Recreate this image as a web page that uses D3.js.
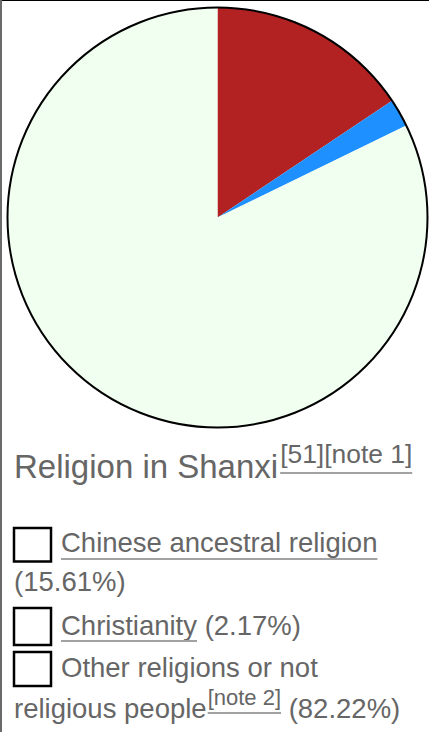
<!DOCTYPE html>
<html><head><meta charset="utf-8">
<script src="https://cdn.jsdelivr.net/npm/d3@7"></script>
<style>html,body{margin:0;padding:0;background:#fff;}svg{display:block;}</style>
</head><body>
<script>
const categories = ["Chinese ancestral religion", "Christianity", "Other religions or not religious people"];
const values = [15.61, 2.17, 82.22];
const colors = ["#B22222", "#1E90FF", "#F0FFF0"];
const title = "Religion in Shanxi";
const titleNote = "[51][note 1]";
const valueLabels = ["(15.61%)", "(2.17%)", "(82.22%)"];

const W = 429, H = 732;
const svg = d3.select("body").append("svg").attr("width", W).attr("height", H);
const font = "'Liberation Sans', Arial, sans-serif";
const textColor = "#666", lineColor = "#a2a2a2";

// frame
svg.append("line").attr("x1",0).attr("x2",W).attr("y1",0.5).attr("y2",0.5).attr("stroke","#000").attr("stroke-width",1);
svg.append("rect").attr("x",0).attr("y",0).attr("width",2).attr("height",H).attr("fill","#6a6a6a");

// pie
const cx = 217.5, cy = 217.5, r = 210;
const pie = d3.pie().sort(null).value(d => d)(values);
const arc = d3.arc().innerRadius(0).outerRadius(r);
const g = svg.append("g").attr("transform", `translate(${cx},${cy})`);
g.selectAll("path").data(pie).join("path").attr("d", arc).attr("fill", (d,i) => colors[i]);
g.append("circle").attr("r", r).attr("fill","none").attr("stroke","#000").attr("stroke-width",2);

function txt(x, y, s, size) {
  return svg.append("text").attr("x", x).attr("y", y).attr("font-family", font)
    .attr("font-size", size).attr("fill", textColor).text(s);
}
function underline(t, y) {
  const x = +t.attr("x"), w = t.node().getComputedTextLength();
  svg.append("line").attr("x1", x).attr("x2", x + w).attr("y1", y).attr("y2", y)
    .attr("stroke", lineColor).attr("stroke-width", 2);
}
function endX(t) { return +t.attr("x") + t.node().getComputedTextLength(); }

// title
const tt = txt(14, 478, title, 33);
const tn = txt(endX(tt) + 2, 463, titleNote, 26.4);
underline(tn, 473);

// legend
const box = (y, h) => svg.append("rect").attr("x", 14).attr("y", y).attr("width", 37).attr("height", h)
  .attr("fill", "#fff").attr("stroke", "#000").attr("stroke-width", 2.5);
const fs = 27.5;

// item 1
box(528, 33.5);
const l1 = txt(61, 552, categories[0], fs); underline(l1, 559);
txt(14, 591, valueLabels[0], fs);

// item 2
box(608, 37);
const l2 = txt(61, 635, categories[1], fs); underline(l2, 641);
txt(endX(l2), 635, " " + valueLabels[1], fs).attr("xml:space","preserve").style("white-space","pre");

// item 3
box(652, 34);
const words = categories[2].split(" ");
txt(61, 677, words.slice(0, 4).join(" "), fs);
const l3b = txt(14, 718, words.slice(4).join(" "), fs);
const n2 = txt(endX(l3b) + 1, 705, "[note 2]", 22);
underline(n2, 713);
txt(endX(n2), 718, " " + valueLabels[2], fs).style("white-space","pre");
</script>
</body></html>
